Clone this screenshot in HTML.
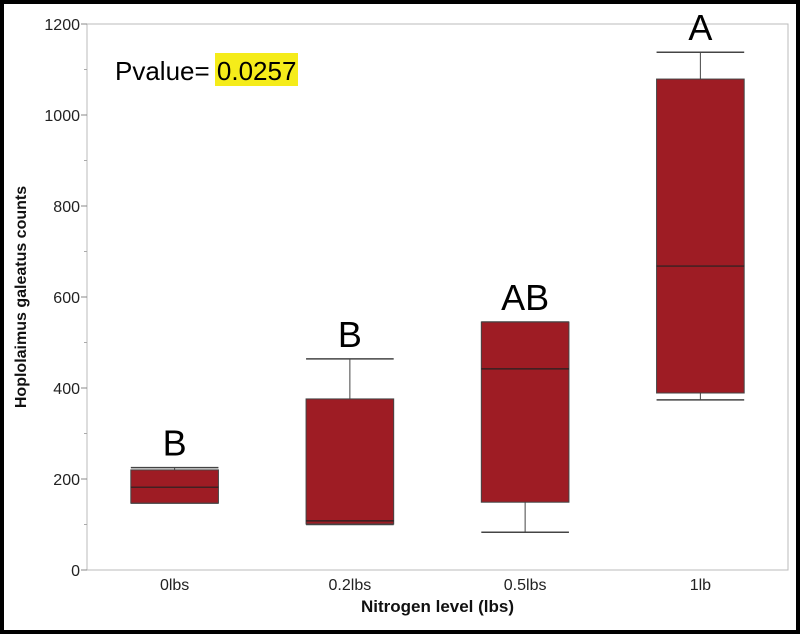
<!DOCTYPE html>
<html><head><meta charset="utf-8"><style>
html,body{margin:0;padding:0;background:#fff;}
#wrap{width:800px;height:634px;position:relative;box-sizing:border-box;border:4px solid #000;overflow:hidden;}
svg{position:absolute;left:-4px;top:-4px;}
</style></head><body>
<div id="wrap">
<svg id="chart" width="800" height="634" font-family="'Liberation Sans', sans-serif"></svg>
</div>
<script>
const categories = ["0lbs","0.2lbs","0.5lbs","1lb"];
const mins = [147,100,83,374];
const q1s = [147,101,149,389];
const medians = [182,108,442,668];
const q3s = [220,376,545,1079];
const maxs = [225,464,545,1138];
const letters = ["B","B","AB","A"];
const yTicks = [0,200,400,600,800,1000,1200];
const yMinorTicks = [100,300,500,700,900,1100];

const NS="http://www.w3.org/2000/svg";
const svg=document.getElementById('chart');
const L=87,R=788,T=24,B=570,ymax=1200;
const y=v=>B-(v/ymax)*(B-T);
const band=(R-L)/categories.length;
const xc=i=>L+band*(i+0.5);
function mk(tag,attrs,parent){const e=document.createElementNS(NS,tag);for(const k in attrs)e.setAttribute(k,attrs[k]);(parent||svg).appendChild(e);return e;}

const frame=mk('rect',{x:L,y:T,width:R-L,height:B-T,fill:'#fff',stroke:'#bbb','stroke-width':1});



yTicks.forEach(v=>{
  const t=mk('line',{x1:L-6,x2:L,y1:y(v),y2:y(v),stroke:'#888'});
  
  
  const tx=mk('text',{x:L-7,y:y(v)+6,'text-anchor':'end','font-size':16,fill:'#222'});
  tx.textContent=v;
  
  
});
yMinorTicks.forEach(v=>{
  const t=mk('line',{x1:L-3,x2:L,y1:y(v),y2:y(v),stroke:'#aaa'});
  
  
});

categories.forEach((c,i)=>{
  const cx=xc(i),w=band/2;
  const g=mk('g',{});
  
  
  mk('line',{x1:cx,x2:cx,y1:y(maxs[i]),y2:y(q3s[i]),stroke:'#444'},g);
  mk('line',{x1:cx,x2:cx,y1:y(q1s[i]),y2:y(mins[i]),stroke:'#444'},g);
  mk('line',{x1:cx-w/2,x2:cx+w/2,y1:y(maxs[i]),y2:y(maxs[i]),stroke:'#444','stroke-width':1.5},g);
  mk('line',{x1:cx-w/2,x2:cx+w/2,y1:y(mins[i]),y2:y(mins[i]),stroke:'#444','stroke-width':1.5},g);
  mk('rect',{x:cx-w/2,y:y(q3s[i]),width:w,height:y(q1s[i])-y(q3s[i]),fill:'#9e1c24',stroke:'#444'},g);
  mk('line',{x1:cx-w/2,x2:cx+w/2,y1:y(medians[i]),y2:y(medians[i]),stroke:'#222','stroke-width':1.2},g);
  const lt=mk('text',{x:cx,y:y(maxs[i])-12,'text-anchor':'middle','font-size':36,fill:'#000'});
  lt.textContent=letters[i];
  
  
  const tl=mk('text',{x:cx,y:B+20,'text-anchor':'middle','font-size':16,fill:'#222'});
  tl.textContent=c;
  
  
});

const xt=mk('text',{x:(L+R)/2,y:612,'text-anchor':'middle','font-size':17,'font-weight':'bold',fill:'#111'});
xt.textContent='Nitrogen level (lbs)';


const yt=mk('text',{x:0,y:0,'text-anchor':'middle','font-size':16,'font-weight':'bold',fill:'#111',transform:'translate(26,297) rotate(-90)'});
yt.textContent='Hoplolaimus galeatus counts';



const hl=mk('rect',{x:215,y:53,width:83,height:33,fill:'#f5ec1a'});


const pv=mk('text',{x:115,y:80,'font-size':26,fill:'#000'});
pv.textContent='Pvalue= 0.0257';


</script>
</body></html>
